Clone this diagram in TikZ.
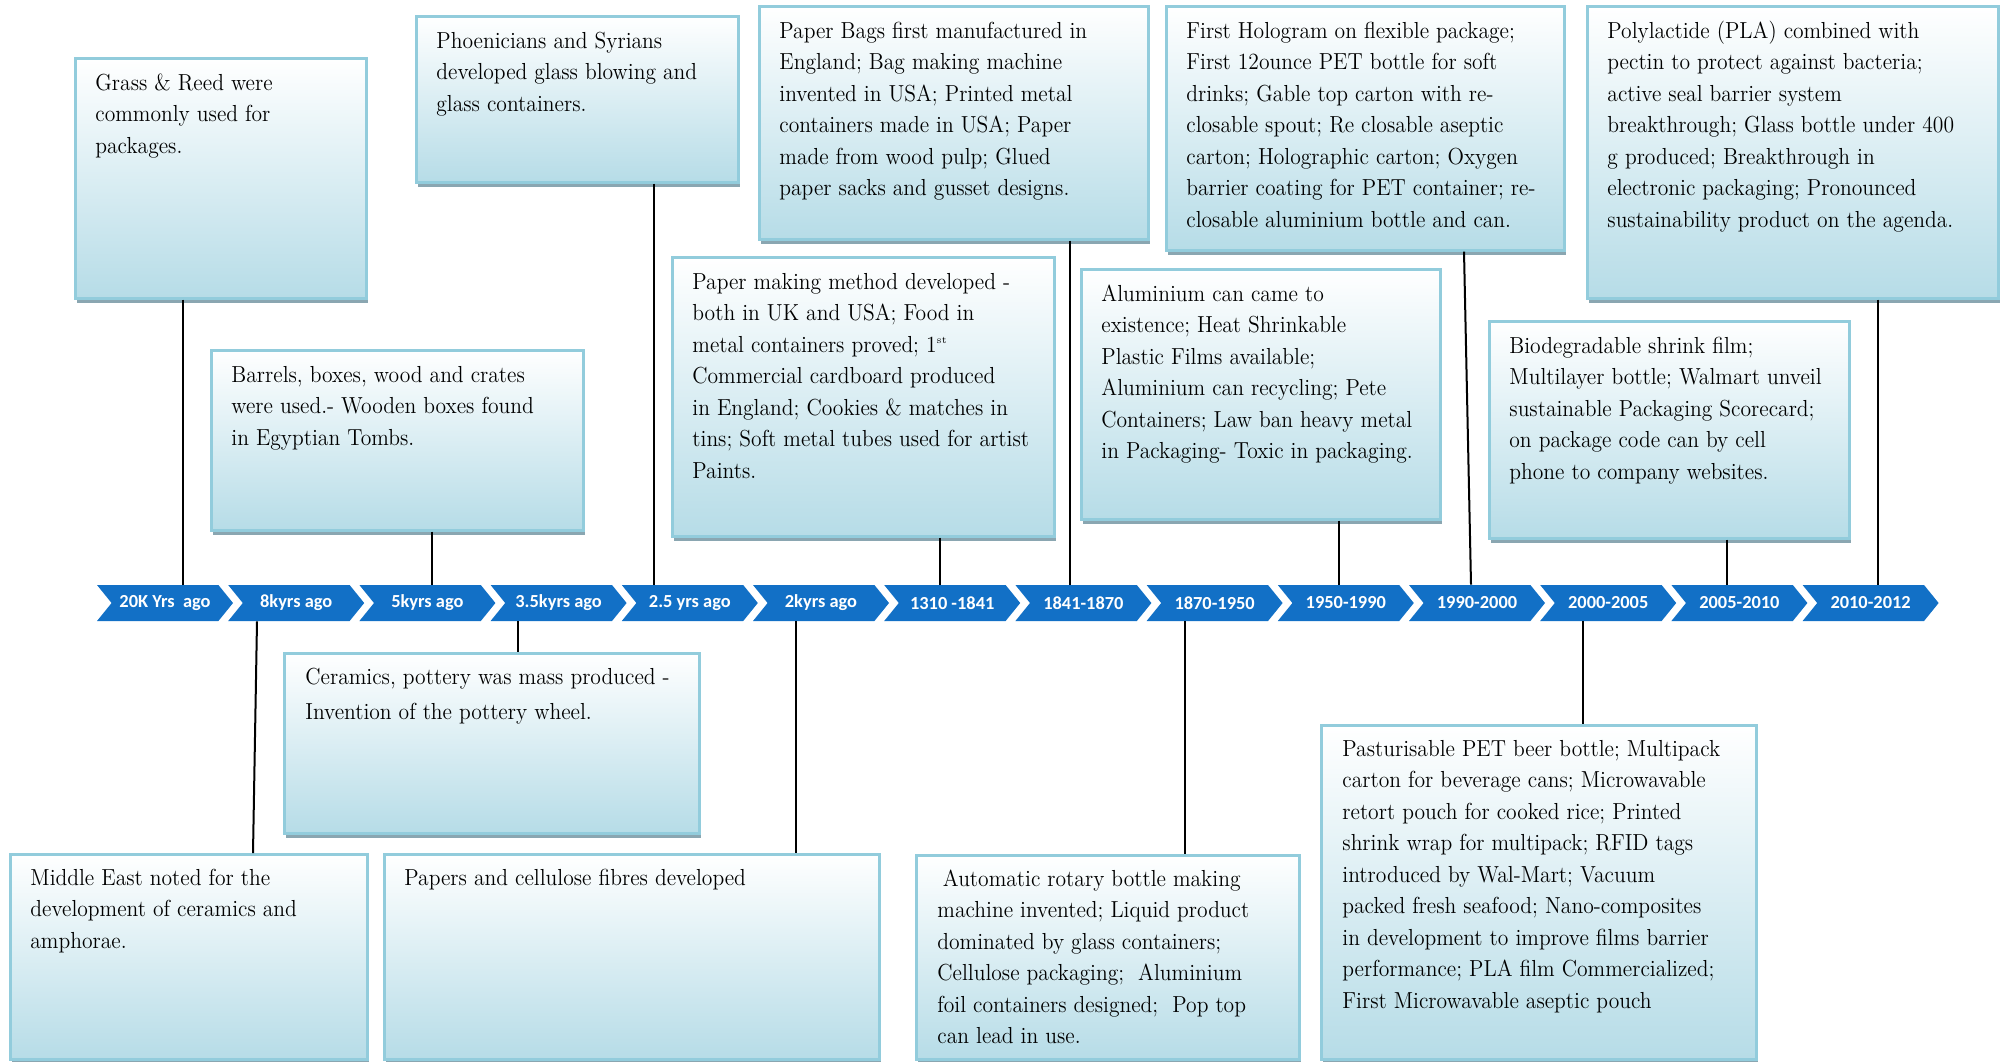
\documentclass[tikz,border=0pt]{standalone}
\usepackage{fontspec}
\usepackage{graphicx}
\newfontfamily\chevfont{Carlito}
\usetikzlibrary{shapes.symbols,shadows,calc}

\definecolor{chevblue}{RGB}{18,112,198}
\definecolor{boxline}{RGB}{146,204,220}
\definecolor{boxfill}{RGB}{182,220,231}
\definecolor{boxshadow}{RGB}{138,166,177}

\tikzset{
  chev/.style={signal, signal from=west, signal to=east, signal pointer angle=102,
    fill=chevblue, draw=none, minimum width=68pt, minimum height=18pt, inner sep=0pt,
    text=white, font=\chevfont\bfseries\fontsize{9.2}{10}\selectfont},
  evbox/.style={rectangle, draw=boxline, line width=1.3pt, top color=white,
    bottom color=boxfill, inner sep=0pt,
    drop shadow={shadow xshift=1pt, shadow yshift=-2.5pt, fill=boxshadow, opacity=1}},
  evtext/.style={anchor=base west, inner sep=0pt},
  link/.style={draw=black, line width=1pt},
}

% event box given by its left, top, right and bottom edge
\newcommand{\eventbox}[5]{%
  \pgfmathsetmacro{\evbw}{(#4-#2)*0.5}%
  \pgfmathsetmacro{\evbh}{(#5-#3)*0.5}%
  \node[evbox, anchor=north west, minimum width=\evbw pt, minimum height=\evbh pt] (#1) at (#2,#3) {};}

% text block whose first baseline sits at the given point (slightly condensed)
\newcommand{\evlines}[2][15.75]{\scalebox{0.93}[1]{\parbox[t]{230pt}{\raggedright\rmfamily\fontsize{11.6}{#1}\selectfont #2}}}

\begin{document}
\begin{tikzpicture}[x=0.5pt,y=-0.5pt]
\useasboundingbox (0,0) rectangle (2000,1061);

% ---- timeline ----
\foreach \lab [count=\i from 0] in {20K Yrs~ ago, 8kyrs ago, 5kyrs ago, 3.5kyrs ago,
    2.5 yrs ago, 2kyrs ago, 1310 -1841, 1841-1870, 1870-1950, 1950-1990,
    1990-2000, 2000-2005, 2005-2010, 2010-2012}
  \node[chev] (c\i) at ({165+131.2*\i},603) {\lab};

% ---- connector positions ----
\coordinate (k0) at (183,0);
\coordinate (k1a) at (257,0);
\coordinate (k1b) at (253,0);
\coordinate (k2) at (432,0);
\coordinate (k3) at (518,0);
\coordinate (k4) at (654,0);
\coordinate (k5) at (796,0);
\coordinate (k6) at (940,0);
\coordinate (k7) at (1070,0);
\coordinate (k8) at (1185,0);
\coordinate (k9) at (1339,0);
\coordinate (k10a) at (1464,0);
\coordinate (k10b) at (1471,0);
\coordinate (k11) at (1583,0);
\coordinate (k12) at (1727,0);
\coordinate (k13) at (1878,0);

% ---- boxes above the timeline ----
\eventbox{g1}{74}{57}{365}{297}
\eventbox{g2}{210}{349}{582}{529}
\eventbox{g3}{415}{15}{737}{181}
\eventbox{g4}{671}{256}{1053}{535}
\eventbox{g5}{758}{5}{1147}{238}
\eventbox{g6}{1080}{268}{1439}{518}
\eventbox{g7}{1165}{5}{1563}{249}
\eventbox{g8}{1586}{5}{1997}{297}
\eventbox{g9}{1488}{320}{1848}{537}

% ---- boxes below the timeline ----
\eventbox{h1}{9}{853}{366}{1058}
\eventbox{h2}{283}{652}{698}{832}
\eventbox{h3}{383}{853}{878}{1058}
\eventbox{h4}{915}{854}{1298}{1058}
\eventbox{h5}{1320}{724}{1755}{1058}

% ---- connectors ----
\draw[link] (g1.south -| k0) -- (c0.north -| k0);
\draw[link] (c1.south -| k1a) -- (h1.north -| k1b);
\draw[link] (g2.south -| k2) -- (c2.north -| k2);
\draw[link] (c3.south -| k3) -- (h2.north -| k3);
\draw[link] (g3.south -| k4) -- (c4.north -| k4);
\draw[link] (c5.south -| k5) -- (h3.north -| k5);
\draw[link] (g4.south -| k6) -- (c6.north -| k6);
\draw[link] (g5.south -| k7) -- (c7.north -| k7);
\draw[link] (c8.south -| k8) -- (h4.north -| k8);
\draw[link] (g6.south -| k9) -- (c9.north -| k9);
\draw[link] (g7.south -| k10a) -- (c10.north -| k10b);
\draw[link] (c11.south -| k11) -- (h5.north -| k11);
\draw[link] (g9.south -| k12) -- (c12.north -| k12);
\draw[link] (g8.south -| k13) -- (c13.north -| k13);

% ---- texts ----
\node[evtext] (g1t) at ($(g1.north west)+(21,33)$) {\evlines{Grass \& Reed were\\commonly used for\\packages.}};
\node[evtext] (g2t) at ($(g2.north west)+(21,33)$) {\evlines{Barrels, boxes, wood and crates\\were used.- Wooden boxes found\\in Egyptian Tombs.}};
\node[evtext] (g3t) at ($(g3.north west)+(21,33)$) {\evlines{Phoenicians and Syrians\\developed glass blowing and\\glass containers.}};
\node[evtext] (g4t) at ($(g4.north west)+(21,33)$) {\evlines{Paper making method developed -\\both in UK and USA; Food in\\metal containers proved; 1\textsuperscript{\tiny st}\\Commercial cardboard produced\\in England; Cookies \& matches in\\tins; Soft metal tubes used for artist\\Paints.}};
\node[evtext] (g5t) at ($(g5.north west)+(21,33)$) {\evlines{Paper Bags first manufactured in\\England; Bag making machine\\invented in USA; Printed metal\\containers made in USA; Paper\\made from wood pulp; Glued\\paper sacks and gusset designs.}};
\node[evtext] (g6t) at ($(g6.north west)+(21,33)$) {\evlines{Aluminium can came to\\existence; Heat Shrinkable\\Plastic Films available;\\Aluminium can recycling; Pete\\Containers; Law ban heavy metal\\in Packaging- Toxic in packaging.}};
\node[evtext] (g7t) at ($(g7.north west)+(21,33)$) {\evlines{First Hologram on flexible package;\\First 12ounce PET bottle for soft\\drinks; Gable top carton with re-\\closable spout; Re closable aseptic\\carton; Holographic carton; Oxygen\\barrier coating for PET container; re-\\closable aluminium bottle and can.}};
\node[evtext] (g8t) at ($(g8.north west)+(21,33)$) {\evlines{Polylactide (PLA) combined with\\pectin to protect against bacteria;\\active seal barrier system\\breakthrough; Glass bottle under 400\\g produced; Breakthrough in\\electronic packaging; Pronounced\\sustainability product on the agenda.}};
\node[evtext] (g9t) at ($(g9.north west)+(21,33)$) {\evlines{Biodegradable shrink film;\\Multilayer bottle; Walmart unveil\\sustainable Packaging Scorecard;\\on package code can by cell\\phone to company websites.}};

\node[evtext] (h1t) at ($(h1.north west)+(21,32)$) {\evlines{Middle East noted for the\\development of ceramics and\\amphorae.}};
\node[evtext] (h2t) at ($(h2.north west)+(22,32)$) {\evlines[17.85]{Ceramics, pottery was mass produced -\\Invention of the pottery wheel.}};
\node[evtext] (h3t) at ($(h3.north west)+(21,32)$) {\evlines{Papers and cellulose fibres developed}};
\node[evtext] (h4t) at ($(h4.north west)+(22,32)$) {\evlines{\hspace*{3pt}Automatic rotary bottle making\\machine invented; Liquid product\\dominated by glass containers;\\Cellulose packaging;~ Aluminium\\foil containers designed;~ Pop top\\can lead in use.}};
\node[evtext] (h5t) at ($(h5.north west)+(22,32)$) {\evlines{Pasturisable PET beer bottle; Multipack\\carton for beverage cans; Microwavable\\retort pouch for cooked rice; Printed\\shrink wrap for multipack; RFID tags\\introduced by Wal-Mart; Vacuum\\packed fresh seafood; Nano-composites\\in development to improve films barrier\\performance; PLA film Commercialized;\\First Microwavable aseptic pouch}};
\end{tikzpicture}
\end{document}
